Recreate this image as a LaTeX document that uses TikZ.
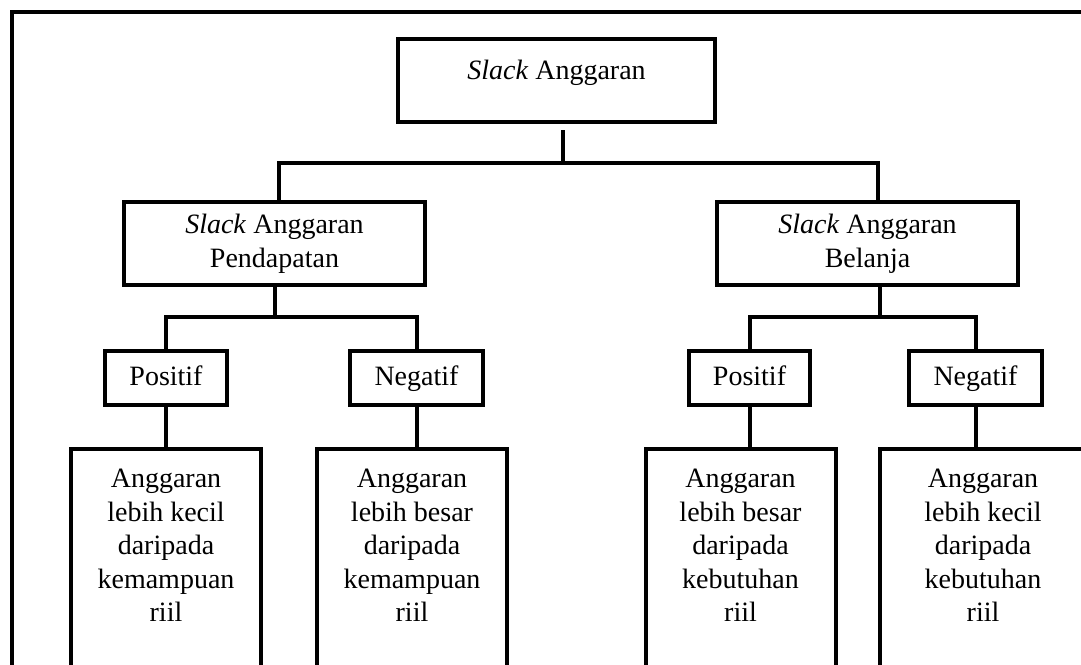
\documentclass[tikz,border=0pt]{standalone}
\usepackage{fontspec}
\setmainfont{Liberation Serif}

\begin{document}
\begin{tikzpicture}[
  x=0.5pt, y=-0.5pt,
  line width=2pt,
  font=\fontsize{14}{16.8}\selectfont,
  box/.style={
    draw, inner sep=0pt, align=center
  },
  head/.style={box, minimum width=158.5pt, minimum height=41.5pt,
    text height=10pt, text depth=11.5pt},
  cat/.style={box, minimum width=150.5pt, minimum height=41.5pt},
  sign/.style={box, minimum height=27pt, text height=10pt, text depth=3pt},
  desc/.style={box, anchor=north, minimum width=95pt,
    inner ysep=10pt, text depth=120pt},
  link/.style={line width=2pt}
]
\useasboundingbox (0,0) rectangle (1081,664);
\clip (0,0) rectangle (1081,664);

% --- outer frame ---
\draw (12,12) rectangle (1100,720);

% --- top ---
\node[head] (root) at (556.5,80.5) {\textit{Slack} Anggaran};

% --- categories ---
\node[cat] (rev) at (274.5,243.5) {\textit{Slack} Anggaran\\Pendapatan};
\node[cat] (exp) at (867.5,243.5) {\textit{Slack} Anggaran\\Belanja};

% --- signs ---
\node[sign, minimum width=61pt]   (posL) at (166,378)   {Positif};
\node[sign, minimum width=66.5pt] (negL) at (416.5,378) {Negatif};
\node[sign, minimum width=60.5pt] (posR) at (749.5,378) {Positif};
\node[sign, minimum width=66.5pt] (negR) at (975.5,378) {Negatif};

% --- descriptions ---
\node[desc] (descL1) at (166,447)
  {Anggaran\\lebih kecil\\daripada\\kemampuan\\riil};
\node[desc] (descL2) at (412,447)
  {Anggaran\\lebih besar\\daripada\\kemampuan\\riil};
\node[desc] (descR1) at (740.5,447)
  {Anggaran\\lebih besar\\daripada\\kebutuhan\\riil};
\node[desc, minimum width=103pt] (descR2) at (983,447)
  {Anggaran\\lebih kecil\\daripada\\kebutuhan\\riil};

% --- connectors ---
\draw[link] ([xshift=3pt,yshift=-3pt]root.south) -- ++(0,33) coordinate (j0);
\draw[link] ([xshift=2pt]rev.north) |- (j0) -| ([xshift=5pt]exp.north);

\draw[link] (rev.south) -- ++(0,30) coordinate (j1);
\draw[link] (posL.north) |- (j1) -| (negL.north);

\draw[link] ([xshift=6pt]exp.south) -- ++(0,30) coordinate (j2);
\draw[link] (posR.north) |- (j2) -| (negR.north);

\foreach \a/\b in {posL/descL1, negL/descL2, posR/descR1, negR/descR2}
  \draw[link] (\a.south) -- (\a.south |- \b.north);

\end{tikzpicture}
\end{document}
